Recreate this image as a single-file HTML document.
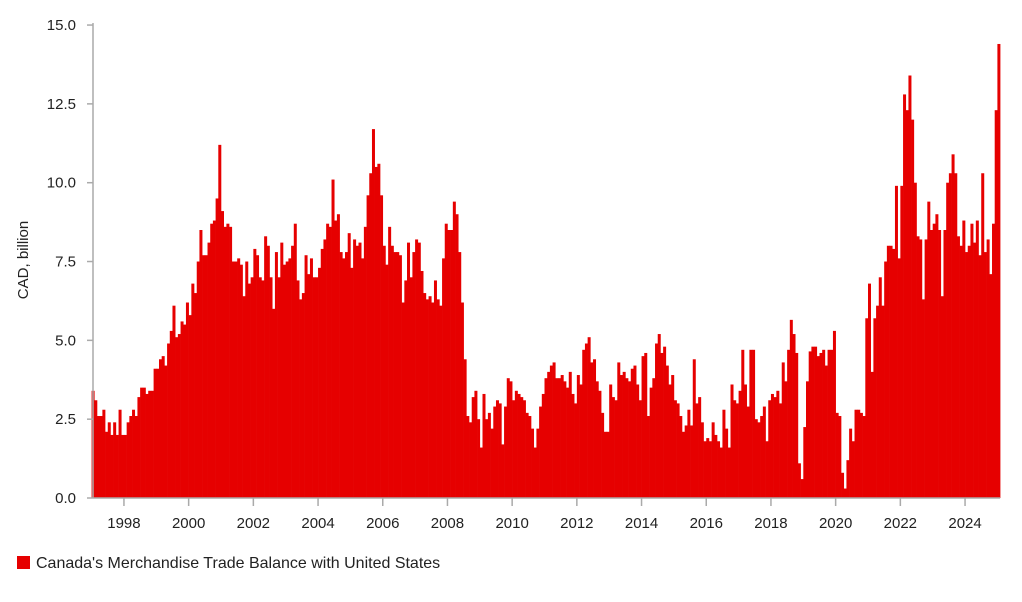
<!DOCTYPE html>
<html><head><meta charset="utf-8"><style>
body{margin:0;background:#fff;font-family:"Liberation Sans",Arial,sans-serif}
svg text{font-family:"Liberation Sans",Arial,sans-serif}
</style></head><body>
<svg id="chart" width="1022" height="597">
<g id="bars"></g>
<g id="axes"></g>
<text x="28" y="260" font-size="15" fill="#222" text-anchor="middle" transform="rotate(-90 28 260)">CAD, billion</text>
<rect x="17" y="556" width="13" height="13" fill="#e60000"/>
<text x="36" y="568" font-size="16" fill="#222">Canada's Merchandise Trade Balance with United States</text>
</svg>
<script>
const startYear = 1997;
const yTicks = [0, 2.5, 5, 7.5, 10, 12.5, 15];
const yTickLabels = ["0.0","2.5","5.0","7.5","10.0","12.5","15.0"];
const xTickYears = [1998,2000,2002,2004,2006,2008,2010,2012,2014,2016,2018,2020,2022,2024];
const values = [
3.4,3.1,2.6,2.6,2.8,2.1,2.4,2.0,2.4,2.0,2.8,2.0,
2.0,2.4,2.6,2.8,2.6,3.2,3.5,3.5,3.3,3.4,3.4,4.1,
4.1,4.4,4.5,4.2,4.9,5.3,6.1,5.1,5.2,5.6,5.5,6.2,
5.8,6.8,6.5,7.5,8.5,7.7,7.7,8.1,8.7,8.8,9.5,11.2,
9.1,8.6,8.7,8.6,7.5,7.5,7.6,7.4,6.4,7.5,6.8,7.0,
7.9,7.7,7.0,6.9,8.3,8.0,7.0,6.0,7.8,7.0,8.1,7.4,
7.5,7.6,8.0,8.7,6.9,6.3,6.5,7.7,7.1,7.6,7.0,7.0,
7.3,7.9,8.2,8.7,8.6,10.1,8.8,9.0,7.8,7.6,7.8,8.4,
7.3,8.2,8.0,8.1,7.6,8.6,9.6,10.3,11.7,10.5,10.6,9.6,
8.0,7.4,8.6,8.0,7.8,7.8,7.7,6.2,6.9,8.1,7.0,7.8,
8.2,8.1,7.2,6.5,6.3,6.4,6.2,6.9,6.3,6.1,7.6,8.7,
8.5,8.5,9.4,9.0,7.8,6.2,4.4,2.6,2.4,3.2,3.4,2.5,
1.6,3.3,2.5,2.7,2.2,2.9,3.1,3.0,1.7,2.9,3.8,3.7,
3.1,3.4,3.3,3.2,3.1,2.7,2.6,2.2,1.6,2.2,2.9,3.3,
3.8,4.0,4.2,4.3,3.8,3.8,3.9,3.7,3.5,4.0,3.3,3.0,
3.9,3.6,4.7,4.9,5.1,4.3,4.4,3.7,3.4,2.7,2.1,2.1,
3.6,3.2,3.1,4.3,3.9,4.0,3.8,3.7,4.1,4.2,3.6,3.1,
4.5,4.6,2.6,3.5,3.8,4.9,5.2,4.6,4.8,4.2,3.6,3.9,
3.1,3.0,2.6,2.1,2.3,2.8,2.3,4.4,3.0,3.2,2.4,1.8,
1.9,1.8,2.4,2.0,1.8,1.6,2.8,2.2,1.6,3.6,3.1,3.0,
3.4,4.7,3.6,2.9,4.7,4.7,2.5,2.4,2.6,2.9,1.8,3.1,
3.3,3.2,3.4,3.0,4.3,3.7,4.7,5.65,5.2,4.6,1.1,0.6,
2.25,3.7,4.65,4.8,4.8,4.5,4.6,4.7,4.2,4.7,4.7,5.3,
2.7,2.6,0.8,0.3,1.2,2.2,1.8,2.8,2.8,2.7,2.6,5.7,
6.8,4.0,5.7,6.1,7.0,6.1,7.5,8.0,8.0,7.9,9.9,7.6,
9.9,12.8,12.3,13.4,12.0,10.0,8.3,8.2,6.3,8.2,9.4,8.5,
8.7,9.0,8.5,6.4,8.5,10.0,10.3,10.9,10.3,8.3,8.0,8.8,
7.8,8.0,8.7,8.1,8.8,7.7,10.3,7.8,8.2,7.1,8.7,12.3,
14.4
];
const NS="http://www.w3.org/2000/svg";
const X0=91.6, PX_YEAR=32.35, Y0=498, PX_UNIT=31.53, PLOT_LEFT=93;
function xScale(t){return X0+(t-startYear)*PX_YEAR;}
function yScale(v){return Y0-v*PX_UNIT;}
const bars=document.getElementById('bars');
const mw=PX_YEAR/12;
values.forEach((v,i)=>{
  const r=document.createElementNS(NS,'rect');
  const x=xScale(startYear+i/12);
  r.setAttribute('x',x.toFixed(2));
  r.setAttribute('width',(mw+0.3).toFixed(2));
  r.setAttribute('y',yScale(v).toFixed(2));
  r.setAttribute('height',(Y0-yScale(v)).toFixed(2));
  r.setAttribute('fill','#e60000');
  
  
  bars.appendChild(r);
});
const axes=document.getElementById('axes');
const xEnd=xScale(startYear+values.length/12);
function line(x1,y1,x2,y2){const l=document.createElementNS(NS,'line');l.setAttribute('x1',x1);l.setAttribute('y1',y1);l.setAttribute('x2',x2);l.setAttribute('y2',y2);l.setAttribute('stroke','#aaa');l.setAttribute('stroke-width','1.5');axes.appendChild(l);return l;}
const ya=line(PLOT_LEFT,yScale(15)-2,PLOT_LEFT,Y0);


const xa=line(PLOT_LEFT,Y0,xEnd,Y0);


yTicks.forEach((v,i)=>{
  const tk=line(PLOT_LEFT-6,yScale(v),PLOT_LEFT,yScale(v));
  
  
  const t=document.createElementNS(NS,'text');
  t.setAttribute('x',PLOT_LEFT-17);t.setAttribute('y',yScale(v)+5);
  t.setAttribute('text-anchor','end');t.setAttribute('font-size','15');t.setAttribute('fill','#222');
  t.textContent=yTickLabels[i];
  
  
  axes.appendChild(t);
});
xTickYears.forEach(yr=>{
  const x=xScale(yr);
  const tk=line(x,Y0,x,Y0+8);
  
  
  const t=document.createElementNS(NS,'text');
  t.setAttribute('x',x);t.setAttribute('y',Y0+30);
  t.setAttribute('text-anchor','middle');t.setAttribute('font-size','15');t.setAttribute('fill','#222');
  t.textContent=yr;
  
  
  axes.appendChild(t);
});
</script>
</body></html>
